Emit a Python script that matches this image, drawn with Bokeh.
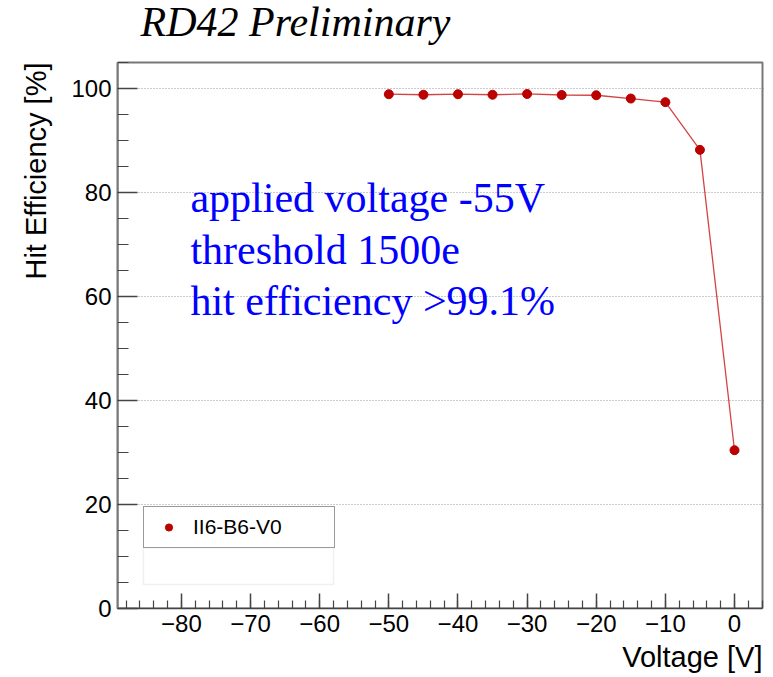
import math
from bokeh.plotting import figure
from bokeh.models import (ColumnDataSource, FixedTicker, Label, Legend, LegendItem,
                          BoxAnnotation, Range1d, Title)
from bokeh.embed import file_html
from bokeh.resources import INLINE

# ---- data ----
voltage = [-50, -45, -40, -35, -30, -25, -20, -15, -10, -5, 0]
efficiency = [98.9, 98.8, 98.9, 98.8, 98.95, 98.75, 98.7, 98.07, 97.37, 88.2, 30.44]
series_name = "II6-B6-V0"
x_ticks = [-80, -70, -60, -50, -40, -30, -20, -10, 0]
y_ticks = [0, 20, 40, 60, 80, 100]
title_text = "RD42 Preliminary"
notes = ["applied voltage -55V", "threshold 1500e", "hit efficiency >99.1%"]
x_label = "Voltage [V]"
y_label = "Hit Efficiency [%]"

# visible axis box
X0, X1 = -89.25, 4.05
Y0, Y1 = 0.0, 105.0
# canvas frame extends above the box (room for the title) and a bit to the right
PX_PER_Y = 5.2
Y_TOP = Y1 + 62 / PX_PER_Y
X_RIGHT = X1 + 3 / 6.917
FRAME_GREY = "#777777"

p = figure(width=773, height=677, output_backend="svg", toolbar_location=None,
           x_range=Range1d(X0, X_RIGHT), y_range=Range1d(Y0, Y_TOP),
           min_border_left=117, min_border_right=8, min_border_top=0,
           min_border_bottom=69)
p.title.text = ""
p.background_fill_color = "white"
p.border_fill_color = "white"
p.outline_line_color = None

# grid
p.xgrid.grid_line_color = None
p.ygrid.grid_line_color = "#999999"
p.ygrid.grid_line_dash = "1 2"
p.ygrid.grid_line_width = 1

# ticks
p.xaxis.ticker = FixedTicker(ticks=x_ticks,
                             minor_ticks=[v for v in range(-88, 5, 2)])
p.yaxis.ticker = FixedTicker(ticks=y_ticks,
                             minor_ticks=[v for v in range(0, 106, 5)])
p.xaxis.major_label_overrides = {t: ("\u2212" + str(abs(t)) if t < 0 else str(t)) for t in x_ticks}

for ax in (p.xaxis, p.yaxis):
    ax.axis_line_color = "#444444"
    ax.axis_line_width = 1.5
    ax.major_tick_line_color = "#444444"
    ax.minor_tick_line_color = "#444444"
    ax.major_tick_line_width = 1.5
    ax.minor_tick_line_width = 1.2
    ax.major_tick_out = 0
    ax.minor_tick_out = 0
    ax.major_label_text_font = "Liberation Sans"
    ax.major_label_text_font_size = "24px"
    ax.major_label_text_color = "black"
p.yaxis.bounds = (Y0, Y1)
p.yaxis.axis_line_color = FRAME_GREY
p.yaxis.axis_line_width = 2
p.xaxis.bounds = (X0, X1)
p.xaxis.major_tick_in = 15
p.xaxis.minor_tick_in = 8
p.yaxis.major_tick_in = 20
p.yaxis.minor_tick_in = 11
p.xaxis.major_label_standoff = 6
p.yaxis.major_label_standoff = 6

# ROOT frame box drawn from the axis limits
p.quad(left=[X0], right=[X1], bottom=[Y0], top=[Y1],
       fill_color=None, line_color=FRAME_GREY, line_width=2)

# axis titles (ROOT style: aligned to the end of the axis)
p.add_layout(Title(text=x_label, align="right", offset=3, text_font="Liberation Sans",
                   text_font_size="29px", text_font_style="normal",
                   text_color="black", standoff=9), "below")
p.add_layout(Title(text=y_label, align="right", offset=62, text_font="Liberation Sans",
                   text_font_size="29px", text_font_style="normal",
                   text_color="black", standoff=34), "left")

src = ColumnDataSource(dict(x=voltage, y=efficiency))
ln = p.line("x", "y", source=src, line_color="#cc2222", line_width=1.3, line_alpha=0.85)
sc = p.scatter("x", "y", source=src, size=9, marker="circle",
               fill_color="#bb0000", line_color="#bb0000")

# legend (ROOT style box)
shadow = BoxAnnotation(left=-85.5, right=-58.0, bottom=4.6, top=11.7,
                       fill_color="white", fill_alpha=1.0,
                       line_color="#cccccc", line_width=1.5)
p.add_layout(shadow)
legend = Legend(items=[LegendItem(label=series_name, renderers=[sc])],
                location=(26, 60), orientation="vertical",
                padding=8, margin=0, spacing=0,
                glyph_width=33, glyph_height=18, label_height=10,
                label_width=133, label_standoff=8,
                label_text_font="Liberation Sans", label_text_font_size="21px",
                label_text_baseline="middle", label_text_color="black",
                border_line_color="#333333", border_line_width=1.5,
                background_fill_color="white", background_fill_alpha=1.0)
p.add_layout(legend, "center")

# title
p.add_layout(Label(x=-85.92, y=112.75, text=title_text, text_font="Liberation Serif",
                   text_font_style="italic", text_font_size="42px", text_color="black",
                   text_align="left", text_baseline="alphabetic"))

# notes
for txt, yy in zip(notes, [78.9, 69.0, 59.2]):
    p.add_layout(Label(x=-78.7, y=yy, text=txt, text_font="Liberation Serif",
                       text_font_size="42px", text_color="blue",
                       text_align="left", text_baseline="alphabetic"))

open("out.html", "w").write(file_html(p, INLINE))
